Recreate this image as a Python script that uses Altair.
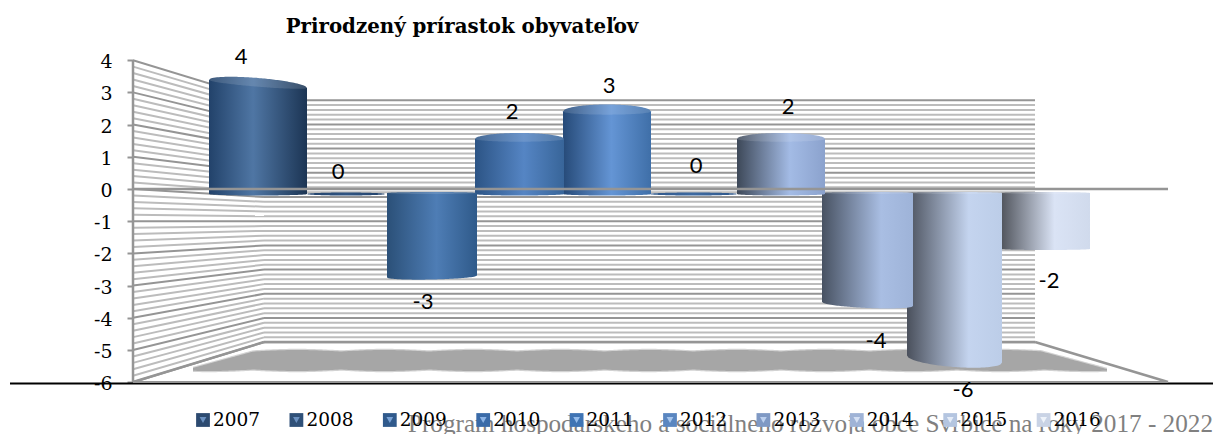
import numpy as np
import pandas as pd
import altair as alt

TITLE = "Prirodzený prírastok obyvateľov"
FOOTER = "Program hospodárskeho a sociálneho rozvoja obce Svrbice na roky 2017 - 2022"
YEARS = ["2007", "2008", "2009", "2010", "2011", "2012", "2013", "2014", "2015", "2016"]
VALUES = [4, 0, -3, 2, 3, 0, 2, -4, -6, -2]
AXIS_TICKS = [4, 3, 2, 1, 0, -1, -2, -3, -4, -5, -6]

# ---- layout (page pixels) -------------------------------------------------
W, H = 1221, 434
VIEW_W, VIEW_H = 1205, 426
FRONT_ZERO, FRONT_UNIT = 189.0, 32.2
BACK_ZERO, BACK_UNIT = 197.0, 24.2
BAR_ZERO, BAR_UNIT = 194.0, 27.5
WALL_FRONT_X, WALL_BACK_X, WALL_RIGHT_X, FLOOR_RIGHT_X = 133, 264, 1035, 1168
FLOOR_BACK_Y, FLOOR_FRONT_Y = 342, 382
BAR_X0 = [209, 307, 387, 475, 563, 650, 737, 822, 907, 1001]
BAR_X1 = [307, 385, 477, 564, 651, 737, 825, 913, 1002, 1090]
BAR_TILT = [8, 0, -2, 0, 0, 0, 0, 4, 7, 0]
BAR_BULGE = [6, 1.5, 3, 6, 7, 1.5, 6, 4, 8, 1]
LABEL_X = [241, 338, 423, 512, 609, 696, 788, 876, 963, 1049]
LABEL_Y = [57, 172, 302, 112, 86, 166, 107, 341, 390, 281]
LEGEND_X0, LEGEND_STEP, LEGEND_Y = 203, 93.4, 420

GRADS = [
    [(0, "#22426a"), (.45, "#4f76a4"), (1, "#1c3554")],
    [(0, "#22426a"), (.5, "#2f5482"), (1, "#22426a")],
    [(0, "#2b5078"), (.55, "#4e7db5"), (1, "#2f5a8a")],
    [(0, "#2c5485"), (.55, "#5585c4"), (1, "#386599")],
    [(0, "#264a78"), (.55, "#6495d5"), (1, "#3f6fa8")],
    [(0, "#2e5688"), (.5, "#3d6aa2"), (1, "#2e5688")],
    [(0, "#3d4858"), (.6, "#a3bbe5"), (1, "#8ba2cd")],
    [(0, "#485262"), (.65, "#a9bee3"), (1, "#9eb3d8")],
    [(0, "#4a505c"), (.65, "#c4d4ef"), (1, "#bccde8")],
    [(0, "#50545c"), (.6, "#dae3f5"), (1, "#d0daec")],
]
LEG_COL = ["#2c4a70", "#2f5078", "#305a8c", "#3a6ba8", "#3f74b4", "#5a86c0",
           "#7f99c4", "#9fb3d6", "#b4c5e0", "#c9d3e5"]
LEG_TRI = ["#6a90c0", "#6a90c0", "#7aa3d6", "#8cb4e6", "#94bcec", "#a6c6ee",
           "#bcd0ee", "#d4e0f4", "#e4ecf8", "#eef3fa"]
GRID = "#bcbcbc"
MAJOR = "#959595"
SERIF = "Liberation Serif"
NUM = "DejaVu Serif"
SANS = "Lato"

x_px = alt.Scale(domain=[8, 8 + VIEW_W], range=[0, VIEW_W], nice=False, zero=False)
y_px = alt.Scale(domain=[8 + VIEW_H, 8], nice=False, zero=False)
y_front = alt.Scale(domain=[(FRONT_ZERO - 8 - VIEW_H) / FRONT_UNIT, (FRONT_ZERO - 8) / FRONT_UNIT], nice=False, zero=False)
y_bar = alt.Scale(domain=[(BAR_ZERO - 8 - VIEW_H) / BAR_UNIT, (BAR_ZERO - 8) / BAR_UNIT], nice=False, zero=False)


def X(f="x"):
    return alt.X(f"{f}:Q", scale=x_px, axis=None)


def Y(f="y", s=y_px):
    return alt.Y(f"{f}:Q", scale=s, axis=None)


def segs(rows, color, width):
    df = pd.DataFrame(rows, columns=["x", "y", "x1", "y1"])
    return alt.Chart(df).mark_rule(color=color, strokeWidth=width).encode(
        x=X(), y=Y(), x2="x1:Q", y2="y1:Q")


def grad(stops):
    return alt.LinearGradient(gradient="linear", x1=0, x2=1, y1=0, y2=0,
                              stops=[alt.GradientStop(offset=o, color=c) for o, c in stops])


# ---- walls ------------------------------------------------------------------
levels = np.round(np.arange(-6, 4.01, 0.2), 1)
minor_rows, major_rows = [], []
for v in levels:
    fy, by = FRONT_ZERO - FRONT_UNIT * v, BACK_ZERO - BACK_UNIT * v
    rows = major_rows if float(v).is_integer() else minor_rows
    rows.append((WALL_FRONT_X, float(fy), WALL_BACK_X, float(by)))
    rows.append((WALL_BACK_X, float(by), WALL_RIGHT_X, float(by)))
layers = [segs(minor_rows, GRID, 2), segs(major_rows, MAJOR, 2)]

# floor shadow
sx = np.linspace(193, 1107, 400)
wave = np.abs(np.cos((sx - 209) / 88 * np.pi))
s_top = np.maximum.reduce([351.5 - 1.5 * wave, 368 - (sx - 193) * 17 / 62, 351 + (sx - 1040) * 18 / 67])
s_bot = 369.5 + 1.5 * wave
sd = pd.DataFrame({"x": sx, "y": s_top, "y1": s_bot})
layers.append(alt.Chart(sd).transform_calculate(a="datum.y-1.2", b="datum.y1+1.2").mark_area(
    orient="vertical", color="#d2d2d2").encode(x=X(), y=Y("a"), y2="b:Q"))
layers.append(alt.Chart(sd).mark_area(orient="vertical", color="#a6a6a6").encode(x=X(), y=Y(), y2="y1:Q"))

# floor and wall edges
layers.append(segs([
    (WALL_FRONT_X, FLOOR_FRONT_Y, WALL_BACK_X, FLOOR_BACK_Y),
    (WALL_BACK_X, FLOOR_BACK_Y, WALL_RIGHT_X, FLOOR_BACK_Y),
    (WALL_RIGHT_X, FLOOR_BACK_Y, FLOOR_RIGHT_X, FLOOR_FRONT_Y),
    (WALL_FRONT_X, 60, WALL_FRONT_X, FLOOR_FRONT_Y),
], MAJOR, 2.5))
# black page rule, then the grey front edge of the floor
layers.append(segs([(10, 383.5, 8 + VIEW_W, 383.5)], "#000000", 2))
layers.append(segs([(WALL_FRONT_X, FLOOR_FRONT_Y, FLOOR_RIGHT_X, FLOOR_FRONT_Y)], MAJOR, 2))


# ---- cylinders ---------------------------------------------------------------
def cylinder(i):
    v = VALUES[i]
    t = np.linspace(-1, 1, 61)
    arc = np.sqrt(1 - t ** 2)
    x = BAR_X0[i] + (t + 1) / 2 * (BAR_X1[i] - BAR_X0[i])
    u = BAR_UNIT
    tilt = BAR_TILT[i] * t / 2 / u
    b = BAR_BULGE[i] * arc / u
    if v > 0:
        up, lo = v + b - tilt, -1.5 * arc / u
        cap_lo = v - 0.45 * b - tilt
    elif v < 0:
        up, lo = 1.0 * arc / u + 1 / u, v - b - tilt
        cap_lo = up - 2 * arc / u
    else:
        up, lo = b, -b
        cap_lo = None
    d = pd.DataFrame({"x": x, "y": up, "y1": lo})
    out = [alt.Chart(d).mark_area(orient="vertical", fill=grad(GRADS[i])).encode(
        x=X(), y=Y("y", y_bar), y2="y1:Q")]
    if cap_lo is not None:
        c = pd.DataFrame({"x": x, "y": up, "y1": cap_lo})
        out.append(alt.Chart(c).mark_area(orient="vertical", fill="#ffffff", opacity=0.13).encode(
            x=X(), y=Y("y", y_bar), y2="y1:Q"))
    return out


for i in reversed(range(len(VALUES))):
    layers += cylinder(i)

# zero plane line over the bars
layers.append(segs([(WALL_FRONT_X, FRONT_ZERO, FLOOR_RIGHT_X, FRONT_ZERO)], MAJOR, 2.5))

# real value axis (front edge of the left wall)
axis_df = pd.DataFrame({"v": AXIS_TICKS})
layers.append(alt.Chart(axis_df).mark_point(opacity=0).encode(
    x=alt.value(WALL_FRONT_X - 8),
    y=alt.Y("v:Q", scale=y_front, axis=alt.Axis(
        values=AXIS_TICKS, labelExpr="'' + datum.value", title=None, grid=False, domain=False, orient="left",
        offset=-(WALL_FRONT_X - 8), tickColor=MAJOR, tickWidth=2, tickSize=6, labelPadding=15,
        labelFont=NUM, labelFontSize=19, labelColor="#000000", labelOffset=1.5,
        labelOverlap=False))))

# data labels
lab = pd.DataFrame({"x": LABEL_X, "y": LABEL_Y, "t": [str(v) for v in VALUES]})
layers.append(alt.Chart(lab).mark_text(font=SANS, fontSize=22, color="#000000", baseline="middle",
                                       align="center").encode(x=X(), y=Y(), text="t:N"))

# title and footer
layers.append(alt.Chart(pd.DataFrame({"x": [462], "y": [27], "t": [TITLE]})).mark_text(
    font=NUM, fontSize=19.8, fontWeight="bold", color="#000000", baseline="middle", align="center"
).encode(x=X(), y=Y(), text="t:N"))
layers.append(alt.Chart(pd.DataFrame({"x": [8 + VIEW_W], "y": [432], "t": [FOOTER]})).mark_text(
    font=SERIF, fontSize=25.2, color="#808080", baseline="alphabetic", align="right"
).encode(x=X(), y=Y(), text="t:N"))

# legend
leg = pd.DataFrame({"year": YEARS, "col": LEG_COL, "tri": LEG_TRI})
leg["x"] = [LEGEND_X0 + k * LEGEND_STEP for k in range(len(YEARS))]
leg["tx"] = leg["x"] + 10
leg["y"] = LEGEND_Y
layers.append(alt.Chart(leg).mark_square(size=190, opacity=1, strokeWidth=0).encode(
    x=X(), y=Y(), color=alt.Color("col:N", scale=None)))
layers.append(alt.Chart(leg).mark_point(shape="triangle-down", filled=True, size=45, opacity=1).encode(
    x=X(), y=Y(), color=alt.Color("tri:N", scale=None)))
layers.append(alt.Chart(leg).mark_text(font=NUM, fontSize=18.5, color="#000000", baseline="middle",
                                       align="left").encode(x=X("tx"), y=Y(), text="year:N"))

chart = alt.layer(*layers).resolve_scale(y="independent", color="independent").properties(
    width=VIEW_W, height=VIEW_H, padding=0, background="#ffffff",
    autosize=alt.AutoSizeParams(type="none", contains="content"),
).configure_view(stroke=None)

chart.save("out.html", embed_options={"renderer": "svg", "actions": False})
